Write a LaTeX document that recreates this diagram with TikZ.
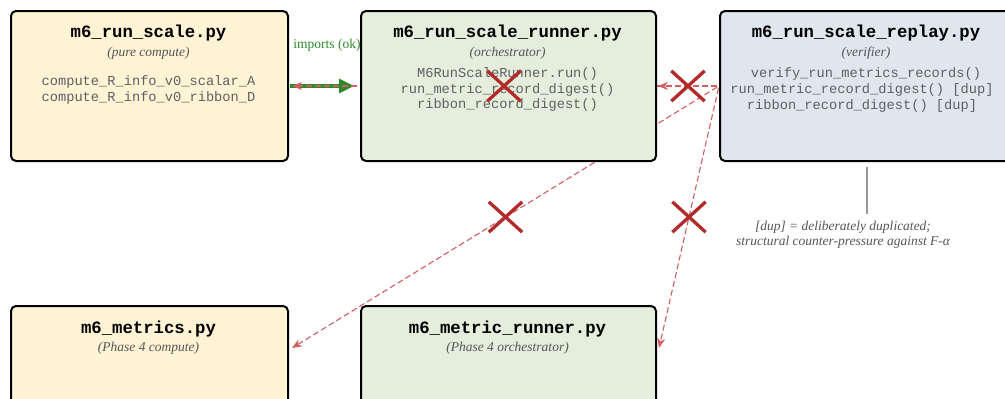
\documentclass[tikz,border=0pt]{standalone}
\usepackage{fontspec}
\setmainfont{Liberation Serif}
\setmonofont{Liberation Mono}
\usetikzlibrary{arrows.meta,shapes.misc,calc}
\definecolor{cream}{HTML}{FFF3D6}
\definecolor{sage}{HTML}{E5EEDC}
\definecolor{slate}{HTML}{DFE6EE}
\definecolor{txtgray}{HTML}{555555}
\definecolor{fngray}{HTML}{606060}
\definecolor{okgreen}{HTML}{2A8A2A}
\definecolor{badred}{HTML}{D06060}
\definecolor{xred}{HTML}{B22A2A}
\definecolor{notegray}{HTML}{999999}
\tikzset{
  box/.style={draw=black, line width=2pt, rounded corners=5pt, inner sep=0pt, anchor=north west, minimum height=150pt},
  ttl/.style={font=\fontsize{17.3}{20}\selectfont\ttfamily\bfseries, inner sep=0pt, text height=12pt, text depth=4pt},
  sub/.style={font=\fontsize{13.5}{16}\selectfont\itshape, text=txtgray, inner sep=0pt, text height=10pt, text depth=3pt},
  fn/.style={font=\fontsize{13.7}{16}\selectfont\ttfamily, text=fngray, inner sep=0pt, text height=10pt, text depth=3pt},
  okarrow/.style={draw=okgreen, line width=3.2pt, -{Triangle[length=15pt,width=14pt]}},
  oklabel/.style={font=\fontsize{13.5}{16}\selectfont, text=okgreen, inner sep=0pt},
  badarrow/.style={draw=badred, line width=1.1pt, dash pattern=on 6pt off 3pt, -{Stealth[length=10pt,width=8pt]}},
  xmark/.style={cross out, draw=xred, line width=3.3pt, minimum width=30pt, minimum height=27pt, inner sep=0pt},
  noteline/.style={draw=notegray, line width=1.2pt},
  note/.style={font=\fontsize{13.5}{15}\selectfont\itshape, text=txtgray, align=center, inner sep=0pt}
}
\begin{document}
\begin{tikzpicture}[x=1pt,y=-1pt]
\useasboundingbox (0,0) rectangle (1005,399);
\clip (0,0) rectangle (1005,399);

% box outlines first (invisible) so connectors can refer to them
\path (10,10) node[box, draw=none, minimum width=277pt] (rs) {};
\path (360,10) node[box, draw=none, minimum width=295pt] (rr) {};
\path (719,10) node[box, draw=none, minimum width=294pt] (rp) {};
\path (10,305) node[box, draw=none, minimum width=277pt] (mm) {};
\path (360,305) node[box, draw=none, minimum width=295pt] (mr) {};

\coordinate (mmin) at ($(mm.north east)+(3,43)$);
\coordinate (mrin) at ($(mr.north east)+(2,43)$);

% green import arrow and label
\node[oklabel] (lbl) at (327,45) {imports (ok)};
\draw[okarrow, shorten <=1pt, shorten >=6pt] (rs.east) -- (rr.west);

% forbidden imports (red, dashed)
\draw[badarrow, shorten <=2pt, shorten >=3pt] (rp.west) -- (rs.east);
\draw[badarrow, shorten <=2pt, shorten >=1pt] (rp.west) -- (rr.east);
\draw[badarrow, shorten <=2pt] (rp.west) -- (mmin);
\draw[badarrow, shorten <=2pt] (rp.west) -- (mrin);

% boxes drawn on top
\node[box, fill=cream, minimum width=277pt] at (10,10) {};
\node[box, fill=sage, minimum width=295pt] at (360,10) {};
\node[box, fill=slate, minimum width=294pt] at (719,10) {};
\node[box, fill=cream, minimum width=277pt, minimum height=160pt] at (10,305) {};
\node[box, fill=sage, minimum width=295pt, minimum height=160pt] at (360,305) {};

% texts box 1
\node[ttl] (t1) at (148.5,33) {m6\_run\_scale.py};
\node[sub] (s1) at (148.5,53) {(pure compute)};
\node[fn] (f1a) at (148.5,82) {compute\_R\_info\_v0\_scalar\_A};
\node[fn] (f1b) at (148.5,98) {compute\_R\_info\_v0\_ribbon\_D};

% texts box 2
\node[ttl] (t2) at (507.5,33) {m6\_run\_scale\_runner.py};
\node[sub] (s2) at (507.5,53) {(orchestrator)};
\node[fn] (f2a) at (507.5,74) {M6RunScaleRunner.run()};
\node[fn] (f2b) at (507.5,89.5) {run\_metric\_record\_digest()};
\node[fn] (f2c) at (507.5,105) {ribbon\_record\_digest()};

% texts box 3
\node[ttl] (t3) at (866,33) {m6\_run\_scale\_replay.py};
\node[sub] (s3) at (866,53) {(verifier)};
\node[fn] (f3a) at (866,74) {verify\_run\_metrics\_records()};
\node[fn] (f3b) at (862,90) {run\_metric\_record\_digest() [dup]};
\node[fn] (f3c) at (862,106) {ribbon\_record\_digest() [dup]};

% texts lower boxes
\node[ttl] (t4) at (148.5,329) {m6\_metrics.py};
\node[sub] (s4) at (148.5,348) {(Phase 4 compute)};
\node[ttl] (t5) at (507.5,329) {m6\_metric\_runner.py};
\node[sub] (s5) at (507.5,348) {(Phase 4 orchestrator)};

% X marks on the forbidden edges
\node[xmark] (x1) at ($(rp.west)!0.5!(rs.east)$) {};
\node[xmark] (x2) at ($(rp.west)!0.5!(rr.east)$) {};
\node[xmark] (x3) at ($(rp.west)!0.5!(mmin)$) {};
\node[xmark] (x4) at ($(rp.west)!0.5!(mrin)$) {};

% note
\node[note] (nt) at (843,235) {[dup] = deliberately duplicated;\\ structural counter-pressure against F-α};
\draw[noteline] ([yshift=-5pt]rp.south) -- ++(0,47);
\end{tikzpicture}
\end{document}
